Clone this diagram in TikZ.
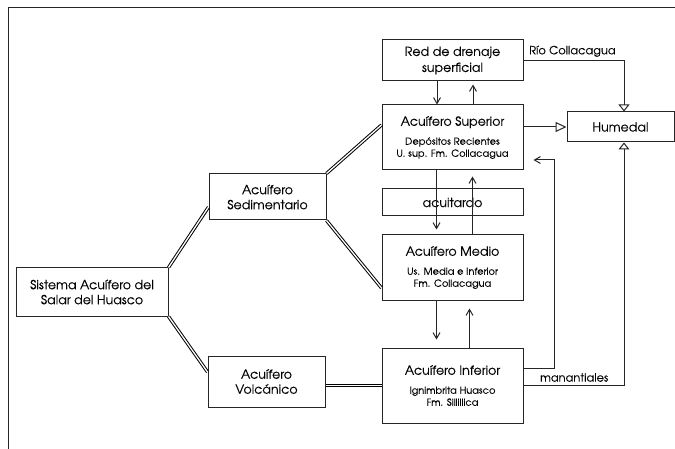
\documentclass[tikz,border=0pt]{standalone}
\usepackage{fontspec}
\setmainfont{TeX Gyre Adventor}[UprightFeatures={FakeBold=0.15}]
\usetikzlibrary{arrows.meta,calc}
\newcommand{\smtxt}{\fontsize{9.8}{12}\selectfont}
\begin{document}
\begin{tikzpicture}[x=1pt,y=-1pt,
  box/.style={draw=black!85, line width=1pt, align=center, inner sep=0pt, font=\fontsize{12.6}{15}\selectfont},
  dbl/.style={draw=black, double=white, double distance=1.3pt, line width=1pt},
  flow/.style={draw=black!85, line width=1pt, -{Straight Barb[length=6pt,width=7pt,line width=1pt]}},
  tri/.style={draw=black!85, line width=1pt, -{Triangle[open,length=7pt,width=11pt,line width=1pt]}},
  trih/.style={draw=black!85, line width=1pt, -{Triangle[open,length=11pt,width=10pt,line width=1pt]}},
  lbl/.style={inner sep=0pt, font=\fontsize{11.4}{13}\selectfont}]
\useasboundingbox (0,0) rectangle (675,449);
\draw[line width=0.8pt, black!85] (675,7) -- (8,7) -- (8,449);

\node[box, minimum width=141pt, minimum height=41pt] (red) at (452.5,60.5) {Red de drenaje\\[1pt]superficial};
\node[box, minimum width=141pt, minimum height=65pt] (sup) at (452.5,137.5) {Acuífero Superior\\[4pt]\smtxt Depósitos Recientes\\[-3pt]\smtxt U. sup. Fm. Collacagua};
\node[box, minimum width=141pt, minimum height=27pt] (acu) at (452.5,202.5) {acuitardo};
\node[box, minimum width=141pt, minimum height=65pt] (med) at (452.5,267.5) {Acuífero Medio\\[4pt]\smtxt Us. Media e Inferior\\[-3pt]\smtxt Fm. Collacagua};
\node[box, minimum width=141pt, minimum height=75pt] (inf) at (452.5,385.5) {Acuífero Inferior\\[4pt]\smtxt Ignimbrita Huasco\\[-3pt]\smtxt Fm. Sillillica};
\node[box, minimum width=107pt, minimum height=30pt] (hum) at (620.5,127) {Humedal};
\node[box, minimum width=152pt, minimum height=48pt] (sis) at (92,292) {Sistema Acuífero del\\Salar del Huasco};
\node[box, minimum width=117pt, minimum height=46pt] (sed) at (267.5,197) {Acuífero\\Sedimentario};
\node[box, minimum width=117pt, minimum height=51pt] (vol) at (266.5,381.5) {Acuífero\\Volcánico};

% double connectors
\draw[dbl] (sis.north east) -- ($(sed.west)+(0,10)$);
\draw[dbl] (sis.south east) -- ($(vol.west)+(0,-9.5)$);
\draw[dbl] (sed.north east) -- ($(sup.west)+(0,-12.5)$);
\draw[dbl] (sed.south east) -- ($(med.west)+(0,20.5)$);
\draw[dbl] (inf.west -| vol.east) -- (inf.west);

% vertical flows
\draw[flow] ($(red.south)+(-15.5,0)$) -- ($(sup.north)+(-15.5,0)$);
\draw[flow, shorten >=3pt] ($(sup.north)+(20.5,0)$) -- ($(red.south)+(20.5,0)$);
\draw[flow, shorten >=5pt] ($(sup.south)+(-16,0)$) -- ($(med.north)+(-16,0)$);
\draw[flow, shorten >=6pt] ($(med.north)+(20,0)$) -- ($(sup.south)+(20,0)$);
\draw[flow, shorten >=8pt] ($(med.south)+(-16,0)$) -- ($(inf.north)+(-16,0)$);
\draw[flow, shorten >=8pt] ($(inf.north)+(17,0)$) -- ($(med.south)+(17,0)$);

% to Humedal
\draw[trih] (hum.west -| sup.east) -- (hum.west);
\coordinate (rc) at ($(hum.north)+(3.5,0)$);
\draw[tri] (red.east) -| (rc);
\node[lbl, anchor=south west] (rio) at (529,57) {Río Collacagua};
\coordinate (mc) at ($(hum.south)+(3.5,0)$);
\draw[tri] (inf.east) -| (mc);
\node[lbl, anchor=south west] (man) at (540,382) {manantiales};

% Inferior to Superior
\coordinate (k) at (554,160);
\draw[flow, shorten >=10pt] ($(inf.east)+(0,-17.5)$) -| (k) -- ($(sup.east)+(0,22.5)$);
\end{tikzpicture}
\end{document}
